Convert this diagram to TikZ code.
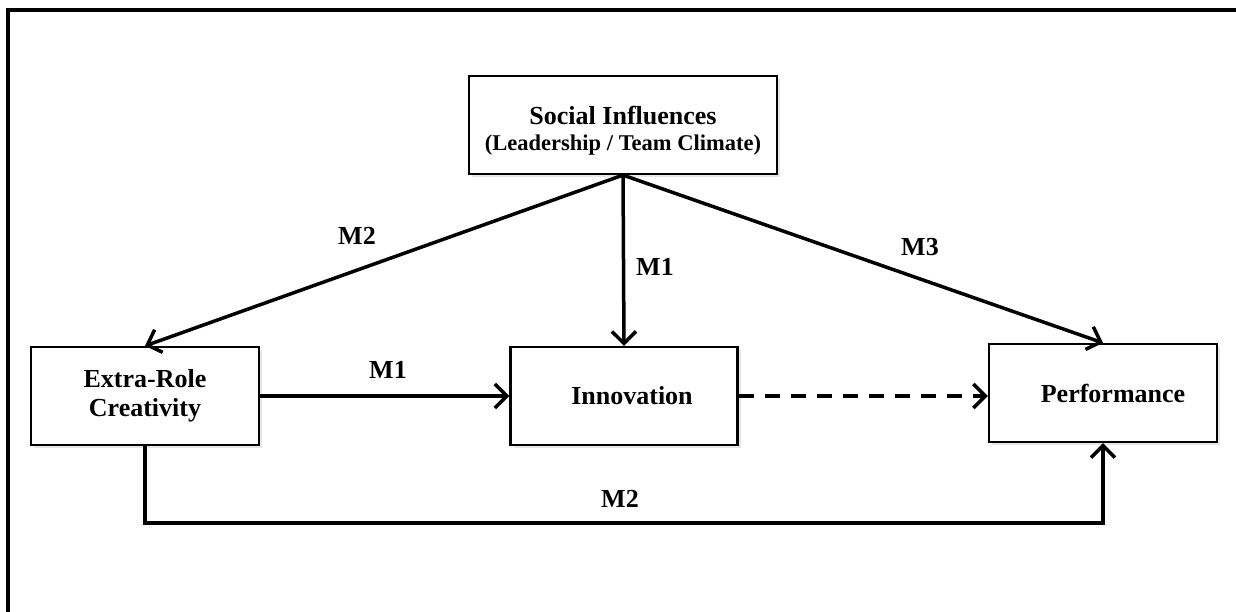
\documentclass[tikz,border=0pt]{standalone}
\usepackage{fontspec}
\setmainfont{Liberation Serif}
\usetikzlibrary{positioning,arrows.meta,shadows}

\tikzset{
    block/.style={draw, line width=2.2pt, fill=white, minimum width=228pt, minimum height=98pt,
        align=center, font=\fontsize{26}{29.5}\selectfont\bfseries,
        drop shadow={shadow xshift=3pt, shadow yshift=-3pt, opacity=0.2}},
    path/.style={line width=3.5pt, -{Straight Barb[length=12pt,width=24pt,line width=3.5pt]}},
    tag/.style={font=\fontsize{26}{29}\selectfont\bfseries}
}

\begin{document}
\begin{tikzpicture}[x=1pt, y=-1pt]
        \useasboundingbox (0,0) rectangle (1236,612);
        \draw[line width=3.5pt] (8,612) -- (8,10) -- (1236,10);
        % boxes
        \node[block, minimum width=308pt] (soc) at (623,125)
            {\rule{0pt}{30pt}Social Influences\\[-4pt]{\fontsize{22.5}{27}\selectfont(Leadership / Team Climate)}};
        \node[block] (ext) at (145,396) {Extra-Role\\Creativity};
        \node[block, minimum width=227pt] (inn) at (624,396) {\hspace{16pt}Innovation};
        \node[block] (perf) at (1103,393) {\hspace{20pt}Performance};
        \coordinate (low) at (145,523);
        % paths
        \draw[path] (soc.south) -- (ext.north);
        \draw[path] (soc.south) -- (inn.north);
        \draw[path] (soc.south) -- (perf.north);
        \draw[path] (ext.east) -- (inn.west);
        \draw[path, dash pattern=on 15pt off 11pt] (inn.east) -- (inn.east -| perf.west);
        \draw[path] (ext.south) |- (low -| perf.south) -- (perf.south);
        % labels
        \node[tag] (m2up) at (357,236) {M2};
        \node[tag] (m1up) at (655,267) {M1};
        \node[tag] (m3) at (920,247) {M3};
        \node[tag] (m1mid) at (388,370) {M1};
        \node[tag] (m2low) at (620,499) {M2};
    \end{tikzpicture}
\end{document}
